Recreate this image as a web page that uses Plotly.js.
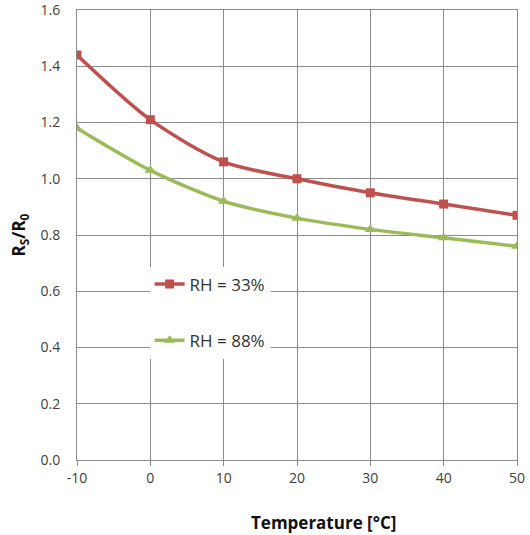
<!DOCTYPE html>
<html><head><meta charset="utf-8">
<script src="https://cdn.plot.ly/plotly-3.0.1.min.js"></script>
<style>html,body{margin:0;padding:0;background:#fff}#c{width:530px;height:535px}</style>
</head><body><div id="c"></div>
<script>
const temperature = [-10, 0, 10, 20, 30, 40, 50];
const rh33 = [1.44, 1.21, 1.06, 1.00, 0.95, 0.91, 0.87];
const rh88 = [1.18, 1.03, 0.92, 0.86, 0.82, 0.79, 0.76];
const seriesNames = ["RH = 33%", "RH = 88%"];
const xTicks = [-10, 0, 10, 20, 30, 40, 50];
const yTicks = [0, 0.2, 0.4, 0.6, 0.8, 1.0, 1.2, 1.4, 1.6];
const xTitle = 'Temperature [°C]';
const yTitle = 'R<sub>S</sub>/R<sub>0</sub>';

const traces = [
  {x: temperature, y: rh33, name: seriesNames[0], legendgroup: 'a', mode: 'lines+markers',
   line: {color: '#C0504D', width: 3.5, shape: 'spline', smoothing: 0.8},
   marker: {symbol: 'square', size: 9, color: '#C0504D'}},
  {x: temperature, y: rh88, name: seriesNames[1], legendgroup: 'b', mode: 'lines+markers',
   line: {color: '#9BBB59', width: 3.5, shape: 'spline', smoothing: 0.8},
   marker: {symbol: 'triangle-up', size: 10, color: '#9BBB59'}}
];
const fam = 'Open Sans, Liberation Sans, sans-serif';
const axisFont = {family: fam, size: 14, color: '#404040'};
const layout = {
  width: 530, height: 535,
  margin: {l: 77, r: 13, t: 10, b: 75},
  paper_bgcolor: '#fff', plot_bgcolor: '#fff',
  showlegend: true,
  legend: {x: 0.165, y: 0.43, xanchor: 'left', yanchor: 'top', bgcolor: '#fff',
    traceorder: 'grouped', tracegroupgap: 31,
    font: {family: fam, size: 17, color: '#333'}},
  xaxis: {range: [-10, 50], tickvals: xTicks, ticktext: xTicks.map(String),
    showgrid: true, gridcolor: '#8c8c8c', gridwidth: 1,
    showline: true, linecolor: '#8c8c8c', mirror: true, zeroline: false,
    ticks: 'outside', ticklen: 5, tickcolor: '#8c8c8c', tickfont: axisFont,
    ticklabeloverflow: 'allow'},
  yaxis: {range: [0, 1.6], tickvals: yTicks, ticktext: yTicks.map(v => v.toFixed(1)),
    showgrid: true, gridcolor: '#8c8c8c', gridwidth: 1,
    showline: true, linecolor: '#8c8c8c', mirror: true, zeroline: false,
    ticks: 'outside', ticklen: 13, tickcolor: '#fff', tickfont: axisFont,
    ticklabeloverflow: 'allow',
    title: {text: yTitle, standoff: 10,
      font: {family: fam, size: 17, color: '#111', weight: 'bold'}}},
  annotations: [{text: xTitle, xref: 'paper', yref: 'paper', x: 0.56, y: -0.138,
    xanchor: 'center', yanchor: 'middle', showarrow: false,
    font: {family: fam, size: 17, color: '#111', weight: 'bold'}}]
};
Plotly.newPlot('c', traces, layout, {displayModeBar: false, staticPlot: true});
</script></body></html>
